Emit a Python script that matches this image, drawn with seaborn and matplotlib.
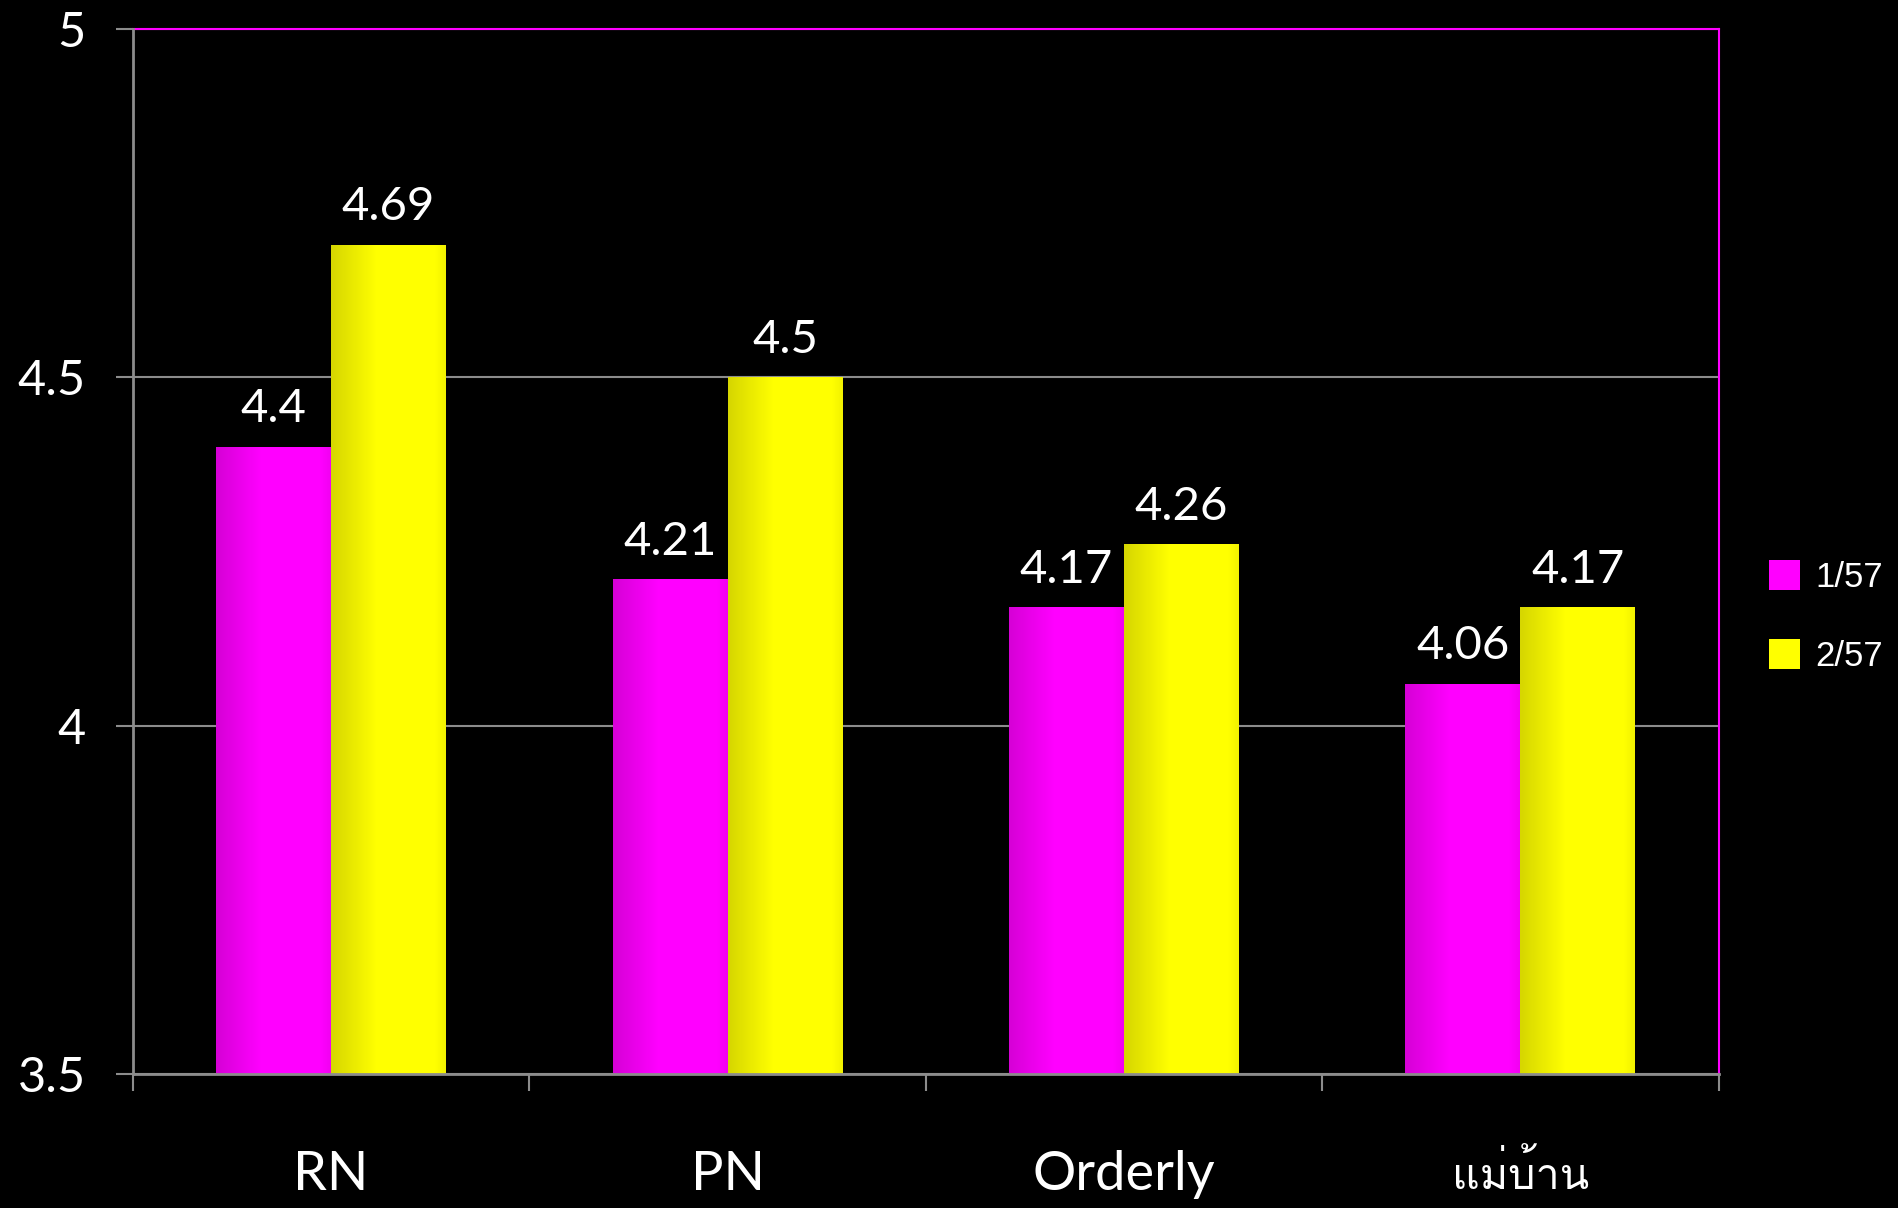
import matplotlib
matplotlib.use("Agg")
import matplotlib.pyplot as plt
from matplotlib import font_manager
from matplotlib.ft2font import FT2Font
from matplotlib.patches import Patch
from matplotlib.colors import to_rgb
import seaborn as sns
import pandas as pd
import numpy as np

categories = ["RN", "PN", "Orderly", "แม่บ้าน"]
series_names = ["1/57", "2/57"]
values_1 = [4.4, 4.21, 4.17, 4.06]
values_2 = [4.69, 4.5, 4.26, 4.17]
y_ticks = [3.5, 4, 4.5, 5]
y_tick_labels = ["3.5", "4", "4.5", "5"]

colors = ["#FF00FF", "#FFFF00"]

# find some installed font that has Thai glyphs
thai_font = None
for f in font_manager.fontManager.ttflist:
    try:
        if 0x0E41 in FT2Font(f.fname).get_charmap():
            thai_font = f.name
            break
    except Exception:
        pass

sns.set_theme(style="dark")
families = ["Lato"] + ([thai_font] if thai_font else []) + ["DejaVu Sans"]
plt.rcParams["font.family"] = families

df = pd.DataFrame({
    "category": categories * 2,
    "value": values_1 + values_2,
    "series": [series_names[0]] * 4 + [series_names[1]] * 4,
})

fig = plt.figure(figsize=(18.99, 12.08), dpi=100, facecolor="black")
ax = fig.add_axes([0.070, 0.111, 0.835, 0.865])
ax.set_facecolor("black")

sns.barplot(data=df, x="category", y="value", hue="series", palette=colors,
            width=0.58, gap=0, saturation=1, legend=False, ax=ax, zorder=3,
            linewidth=0, edgecolor="none")

ax.set_ylim(3.5, 5)
ax.set_xlim(-0.5, 3.5)

# soft left-to-right shading on each bar, like the original 3D fill
shade = np.concatenate([np.linspace(0.84, 1.0, 40), np.ones(50), np.linspace(1.0, 0.95, 10)])
for cont, col in zip(ax.containers, colors):
    rgb = np.array(to_rgb(col))
    img = (shade[:, None] * rgb[None, :])[None, :, :]
    for bar in cont:
        x0, w = bar.get_x(), bar.get_width()
        im = ax.imshow(img, extent=(x0, x0 + w, 3.5, bar.get_height()),
                       aspect="auto", zorder=3.5, interpolation="bilinear")
        im.set_clip_path(bar)

ax.set_xlim(-0.5, 3.5)
ax.set_ylim(3.5, 5)
ax.set_yticks(y_ticks)
ax.set_yticklabels(y_tick_labels)
ax.grid(axis="y", color="#8c8c8c", lw=1.5, zorder=0)
ax.grid(axis="x", visible=False)

for cont in ax.containers:
    ax.bar_label(cont, labels=[f"{v:g}" for v in cont.datavalues], padding=12,
                 color="white", fontsize=34)

ax.tick_params(axis="y", colors="#8c8c8c", labelcolor="white", labelsize=35,
               length=12, width=1.5, pad=22, direction="out", left=True)
ax.set_xticks(range(len(categories)))
ax.set_xticklabels(categories)
ax.tick_params(axis="x", which="major", length=0, labelcolor="white",
               labelsize=39, pad=55)
# the Thai label is set smaller in the original
ax.get_xticklabels()[3].set_fontsize(31)
ax.set_xticks([-0.5, 0.5, 1.5, 2.5, 3.5], minor=True)
ax.tick_params(axis="x", which="minor", colors="#8c8c8c", length=12,
               width=1.5, direction="out", bottom=True)
ax.set_xlabel("")
ax.set_ylabel("")

for side in ["top", "right"]:
    ax.spines[side].set_color("#FF00FF")
    ax.spines[side].set_linewidth(1.5)
for side in ["left", "bottom"]:
    ax.spines[side].set_color("#8c8c8c")
    ax.spines[side].set_linewidth(2)
    ax.spines[side].set_zorder(4)
for s in ax.spines.values():
    s.set_visible(True)

handles = [Patch(facecolor=c, edgecolor="none") for c in colors]
leg = fig.legend(handles, series_names, loc="center left",
                 bbox_to_anchor=(0.915, 0.49), frameon=False,
                 prop={"family": "Liberation Sans", "size": 25},
                 labelcolor="white", handlelength=0.9, handleheight=0.95,
                 handletextpad=0.45, labelspacing=1.3)

fig.savefig("out.png", dpi=100, facecolor="black")
